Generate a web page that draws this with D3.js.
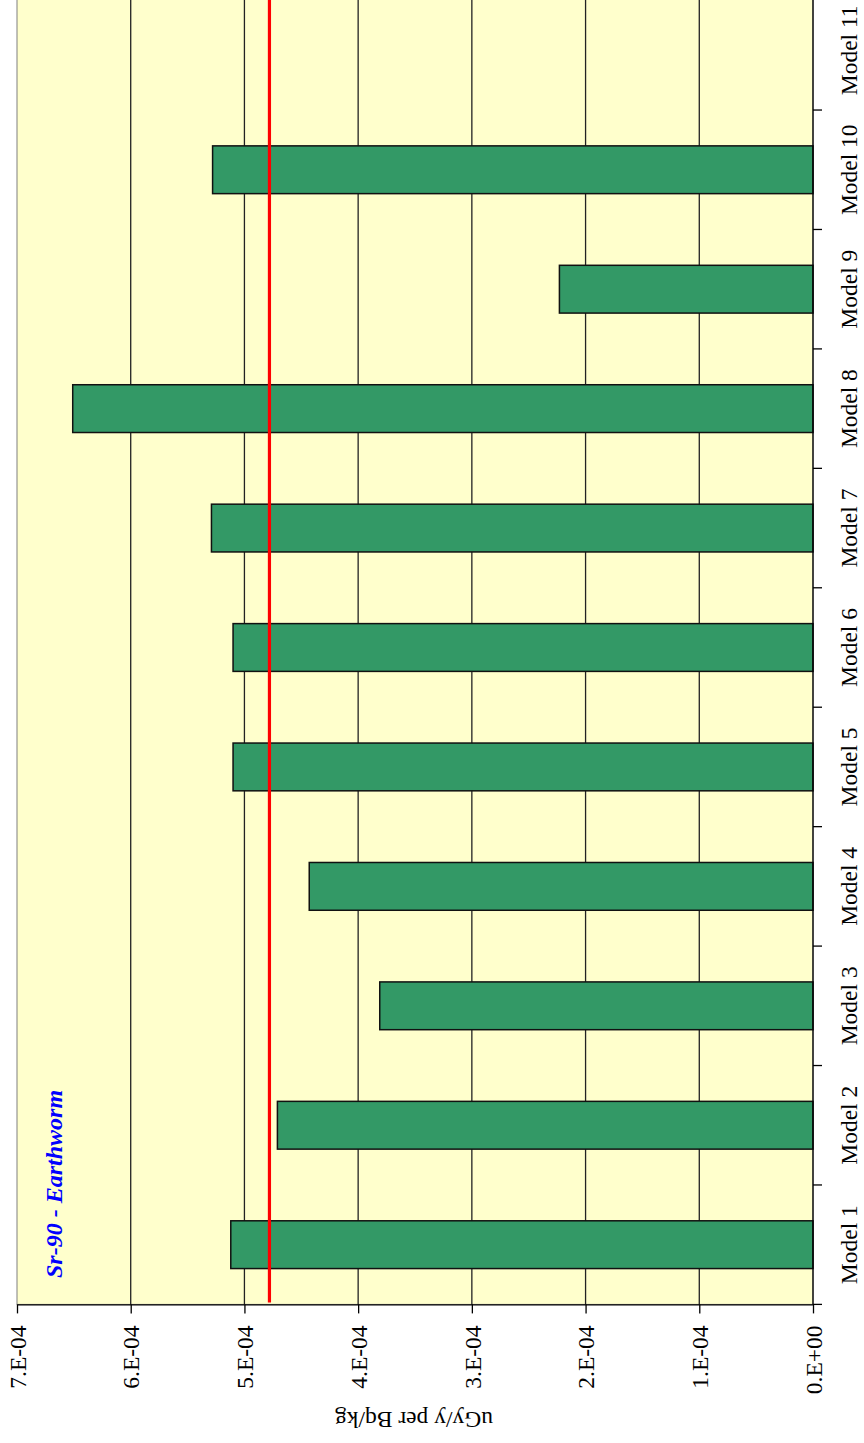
<!DOCTYPE html>
<html>
<head>
<meta charset="utf-8">
<script src="https://cdn.jsdelivr.net/npm/d3@7"></script>
<style>
  html, body { margin: 0; padding: 0; background: #ffffff; }
  svg { display: block; }
  text { font-family: "Liberation Serif", "Times New Roman", serif; }
</style>
</head>
<body>
<svg id="chart" width="864" height="1443"></svg>
<script>
const categories = ["Model 1","Model 2","Model 3","Model 4","Model 5","Model 6","Model 7","Model 8","Model 9","Model 10","Model 11"];
const values = [5.12e-4, 4.71e-4, 3.81e-4, 4.43e-4, 5.10e-4, 5.10e-4, 5.29e-4, 6.51e-4, 2.23e-4, 5.28e-4, null];
const referenceValue = 4.78e-4;
const tickValues = [0, 1e-4, 2e-4, 3e-4, 4e-4, 5e-4, 6e-4, 7e-4];
const tickLabels = ["0.E+00","1.E-04","2.E-04","3.E-04","4.E-04","5.E-04","6.E-04","7.E-04"];
const chartTitle = "Sr-90 - Earthworm";
const axisTitle = "uGy/y per Bq/kg";

const svg = d3.select("#chart");
const plotLeft = 17, plotRight = 813, plotTop = -9.4, plotBottom = 1304.4;

const x = d3.scaleLinear().domain([0, 7e-4]).range([plotRight, plotLeft]);
const y = d3.scaleBand().domain(categories).range([plotBottom, plotTop])
  .paddingInner(0.6).paddingOuter(0.3);

// plot background
svg.append("rect")
  .attr("x", plotLeft).attr("y", plotTop)
  .attr("width", plotRight - plotLeft).attr("height", plotBottom - plotTop)
  .attr("fill", "#ffffcc").attr("stroke", "#808080").attr("stroke-width", 1);

// gridlines
svg.append("g").selectAll("line")
  .data(tickValues.filter(v => v > 0 && v < 7e-4))
  .join("line")
  .attr("x1", d => x(d)).attr("x2", d => x(d))
  .attr("y1", plotTop).attr("y2", plotBottom)
  .attr("stroke", "#222").attr("stroke-width", 1.3);

// bars
const barData = categories.map((c, i) => ({c, v: values[i]})).filter(d => d.v != null);
svg.append("g").selectAll("rect")
  .data(barData)
  .join("rect")
  .attr("x", d => x(d.v))
  .attr("y", d => y(d.c))
  .attr("width", d => x(0) - x(d.v))
  .attr("height", y.bandwidth())
  .attr("fill", "#339966")
  .attr("stroke", "#111").attr("stroke-width", 1.5);

// reference line
svg.append("line")
  .attr("x1", x(referenceValue)).attr("x2", x(referenceValue))
  .attr("y1", plotTop).attr("y2", plotBottom - 2)
  .attr("stroke", "#ff0000").attr("stroke-width", 3.2);

// value axis (bottom)
const xAxis = d3.axisBottom(x)
  .tickValues(tickValues)
  .tickFormat((d, i) => tickLabels[i])
  .tickSizeInner(9).tickSizeOuter(0);
const gx = svg.append("g")
  .attr("transform", `translate(0,${plotBottom})`)
  .call(xAxis);
gx.select(".domain").attr("stroke", "#000").attr("stroke-width", 1.3);
gx.selectAll(".tick line").attr("stroke", "#000").attr("stroke-width", 1.3);
gx.selectAll(".tick text")
  .attr("transform", "rotate(-90)")
  .attr("x", -21).attr("y", 0).attr("dy", "0.35em")
  .style("text-anchor", "end")
  .style("font-family", "'Liberation Serif', 'Times New Roman', serif")
  .style("font-size", "23.5px")
  .attr("fill", "#000");

// category axis (right)
const step = y.step();
const boundaries = categories.map(c => y(c) + y.bandwidth() + (step - y.bandwidth()) / 2);
boundaries.push(y(categories[categories.length - 1]) - (step - y.bandwidth()) / 2);
svg.append("line")
  .attr("x1", plotRight).attr("x2", plotRight)
  .attr("y1", plotTop).attr("y2", plotBottom)
  .attr("stroke", "#000").attr("stroke-width", 1.3);
svg.append("g").selectAll("line")
  .data(boundaries)
  .join("line")
  .attr("x1", plotRight).attr("x2", plotRight + 9)
  .attr("y1", d => d).attr("y2", d => d)
  .attr("stroke", "#000").attr("stroke-width", 1.3);

svg.append("g").selectAll("text")
  .data(categories)
  .join("text")
  .attr("transform", d => `translate(857,${y(d) + y.bandwidth() / 2}) rotate(-90)`)
  .attr("text-anchor", "middle")
  .style("font-size", "23.5px")
  .attr("fill", "#000")
  .text(d => d);

// axis title (upside down)
svg.append("text")
  .attr("transform", "translate(414,1412) rotate(180)")
  .attr("text-anchor", "middle")
  .style("font-size", "23.5px")
  .attr("fill", "#000")
  .text(axisTitle);

// chart title
svg.append("text")
  .attr("transform", "translate(62,1278) rotate(-90)")
  .attr("text-anchor", "start")
  .style("font-size", "24px")
  .style("font-weight", "bold")
  .style("font-style", "italic")
  .attr("fill", "#0000ff")
  .text(chartTitle);
</script>
</body>
</html>
